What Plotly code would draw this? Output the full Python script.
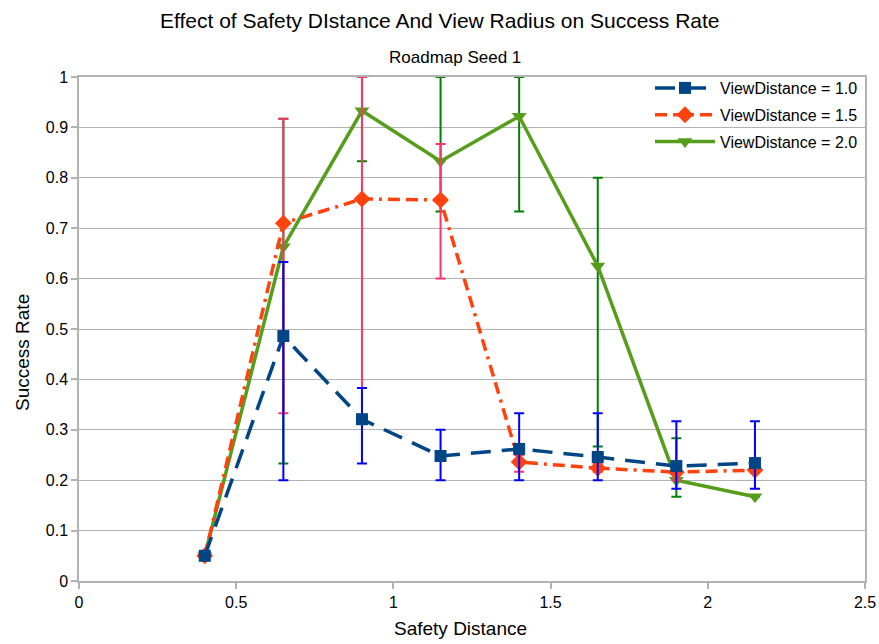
import plotly.graph_objects as go

# Data
safety_distance = [0.4, 0.65, 0.9, 1.15, 1.4, 1.65, 1.9, 2.15]

vd10_rate = [0.05, 0.486, 0.321, 0.248, 0.262, 0.246, 0.228, 0.234]
vd10_upper = [0.055, 0.633, 0.383, 0.300, 0.333, 0.333, 0.317, 0.317]
vd10_lower = [0.045, 0.200, 0.233, 0.200, 0.200, 0.200, 0.183, 0.183]

vd15_rate = [0.05, 0.710, 0.758, 0.756, 0.236, 0.224, 0.216, 0.220]
vd15_upper = [0.05, 0.917, 1.000, 0.867, 0.250, 0.233, 0.233, 0.225]
vd15_lower = [0.05, 0.333, 0.383, 0.600, 0.217, 0.217, 0.200, 0.215]

vd20_rate = [0.05, 0.663, 0.933, 0.833, 0.922, 0.625, 0.200, 0.167]
vd20_upper = [0.05, 0.917, 1.000, 1.000, 1.000, 0.800, 0.283, 0.167]
vd20_lower = [0.05, 0.233, 0.833, 0.733, 0.733, 0.267, 0.167, 0.167]

series_names = ["ViewDistance = 1.0", "ViewDistance = 1.5", "ViewDistance = 2.0"]

x_ticks = [0, 0.5, 1, 1.5, 2, 2.5]
x_tick_labels = ["0", "0.5", "1", "1.5", "2", "2.5"]
y_ticks = [0, 0.1, 0.2, 0.3, 0.4, 0.5, 0.6, 0.7, 0.8, 0.9, 1.0]
y_tick_labels = ["0", "0.1", "0.2", "0.3", "0.4", "0.5", "0.6", "0.7", "0.8", "0.9", "1"]

title_text = "Effect of Safety DIstance And View Radius on Success Rate"
subtitle_text = "Roadmap Seed 1"
x_title = "Safety Distance"
y_title = "Success Rate"

FONT = "Liberation Sans, Arial, sans-serif"

# plot area in pixels
L, R, T, B = 79, 865, 77, 581
W, H = 879, 644


def px_x(p):
    return (p - L) / (R - L)


def px_y(p):
    return (B - p) / (B - T)


def err(rate, upper, lower, color):
    return dict(
        type="data",
        symmetric=False,
        array=[u - r for u, r in zip(upper, rate)],
        arrayminus=[r - l for r, l in zip(rate, lower)],
        color=color,
        thickness=2,
        width=5,
    )


fig = go.Figure()

# draw order: green, orange, blue (blue on top), legend ordered by rank
fig.add_trace(go.Scatter(
    x=safety_distance, y=vd20_rate, name=series_names[2], legendrank=3, legendgroup="c",
    mode="lines+markers",
    line=dict(color="#579d1c", width=3.5),
    marker=dict(symbol="triangle-down", size=13, color="#579d1c"),
    error_y=err(vd20_rate, vd20_upper, vd20_lower, "#008000"),
))
fig.add_trace(go.Scatter(
    x=safety_distance, y=vd15_rate, name=series_names[1], legendrank=2, legendgroup="b",
    mode="lines+markers",
    line=dict(color="#ff420e", width=3.5, dash="12px,6px,12px,6px,3px,6px"),
    marker=dict(symbol="diamond", size=13, color="#ff420e"),
    error_y=err(vd15_rate, vd15_upper, vd15_lower, "#ff3366"),
))
fig.add_trace(go.Scatter(
    x=safety_distance, y=vd10_rate, name=series_names[0], legendrank=1, legendgroup="a",
    mode="lines+markers",
    line=dict(color="#004586", width=3.5, dash="20px,11px"),
    marker=dict(symbol="square", size=12, color="#004586"),
    error_y=err(vd10_rate, vd10_upper, vd10_lower, "#0000ff"),
))

fig.update_layout(
    width=W, height=H,
    margin=dict(l=L, r=W - R, t=T, b=H - B),
    paper_bgcolor="white", plot_bgcolor="white",
    font=dict(family=FONT, size=16, color="black"),
    annotations=[
        dict(text=title_text, x=px_x(440), xref="paper", xanchor="center",
             y=px_y(21), yref="paper", yanchor="middle",
             showarrow=False, font=dict(size=21, family=FONT)),
        dict(text=subtitle_text, x=px_x(455), xref="paper", xanchor="center",
             y=px_y(58), yref="paper", yanchor="middle",
             showarrow=False, font=dict(size=17, family=FONT)),
        dict(text=x_title, x=px_x(460), xref="paper", xanchor="center",
             y=px_y(628), yref="paper", yanchor="middle",
             showarrow=False, font=dict(size=19, family=FONT)),
        dict(text=y_title, x=px_x(22), xref="paper", xanchor="center",
             y=px_y(353), yref="paper", yanchor="middle", textangle=-90,
             showarrow=False, font=dict(size=19, family=FONT)),
    ],
    showlegend=True,
    legend=dict(x=px_x(650), y=px_y(71), xanchor="left", yanchor="top",
                bgcolor="rgba(0,0,0,0)", font=dict(size=16, family=FONT),
                traceorder="grouped", tracegroupgap=3, itemwidth=60),
    xaxis=dict(range=[0, 2.5], tickvals=x_ticks, ticktext=x_tick_labels,
               showgrid=False, zeroline=False, automargin=False,
               showline=True, linecolor="#b3b3b3", linewidth=2, mirror=True,
               ticks="outside", ticklen=6, tickcolor="#b3b3b3", tickwidth=1.5,
               tickfont=dict(size=16)),
    yaxis=dict(range=[0, 1.0], tickvals=y_ticks, ticktext=y_tick_labels,
               showgrid=True, gridcolor="#b3b3b3", gridwidth=1, zeroline=False,
               automargin=False,
               showline=True, linecolor="#b3b3b3", linewidth=1.5, mirror=True,
               ticks="outside", ticklen=6, tickcolor="#b3b3b3", tickwidth=1.5,
               tickfont=dict(size=16)),
)

fig.write_html("out.html",
               config={"displayModeBar": False},
               post_script="document.body.style.margin='0';document.body.style.overflow='hidden';")
